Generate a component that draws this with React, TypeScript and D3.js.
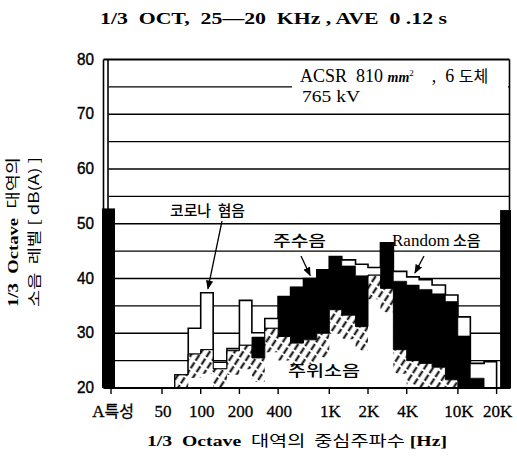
import React from 'react';
import * as d3 from 'd3';

// 1/3 octave band centre frequencies (Hz)
const bandFreqs = [50, 63, 80, 100, 125, 160, 200, 250, 315, 400, 500, 630, 800, 1000, 1250, 1600, 2000, 2500, 3150, 4000, 5000, 6300, 8000, 10000, 12500, 16000];
// overall level (outline), rain noise (black), ambient noise (hatched) in dB(A)
const totalLevel = [20, 22.4, 30.9, 37.4, 24.7, 27.2, 36.0, 30.1, 32.7, 36.7, 38.4, 40.0, 41.6, 44.0, 43.4, 42.6, 42.0, 46.5, 41.3, 40.3, 39.8, 38.8, 37.0, 33.0, 24.5, 24.8];
const rainLevel = [20, 22.4, 26.2, 27.0, 23.5, 26.8, 27.8, 29.3, 30.9, 36.7, 38.4, 40.0, 41.6, 44.0, 42.3, 40.5, 40.6, 46.5, 39.5, 38.8, 38.0, 37.2, 35.8, 29.5, 21.8, 20];
const ambientLevel = [20, 22.4, 26.2, 27.0, 23.5, 26.8, 27.8, 25.5, 30.9, 29.4, 28.2, 28.8, 30.0, 34.3, 33.3, 31.2, 40.6, 38.2, 27.0, 25.0, 24.5, 23.8, 21.5, 20, 20, 20];
// A-weighted overall levels (left "A특성" bar, right 20K bar)
const aWeightedLevels = [52.8, 52.5];

const yTicks = [20, 30, 40, 50, 60, 70, 80];
const gridLevels = [25, 30, 35, 40, 45, 50, 55, 60, 65, 70, 75];
const xTickFreqs = [50, 100, 200, 400, 1000, 2000, 4000, 10000, 20000];
const xTickLabels = ['50', '100', '200', '400', '1K', '2K', '4K', '10K', '20K'];

const W = 517;
const H = 462;
const left = 103.5;
const right = 509.5;
const top = 59.5;
const bottom = 388;
const aTickX = 111;
const hatchDepth = 24; // hatching only runs along the top edge of the ambient area

const serif = '"Liberation Serif", "DejaVu Serif", serif';
const kr = '"Noto Sans CJK KR", sans-serif';
const sans = '"Liberation Sans", Arial, sans-serif';
const pre = { whiteSpace: 'pre' as const };

const x = d3.scaleLog().domain([50, 20000]).range([162, 496.6]);
const y = d3.scaleLinear().domain([20, 80]).range([bottom, top]);

const nextFreq = (i: number) => (i < bandFreqs.length - 1 ? bandFreqs[i + 1] : 20000);
const mid = (f: number) => {
  const i = bandFreqs.indexOf(f);
  return (x(f) + x(nextFreq(i))) / 2;
};

type P = { x: number; hi: number; lo: number };
// step points: each band contributes its left and right edge
const steps = (hi: number[], lo?: number[]): P[] =>
  bandFreqs.flatMap((f, i) => [
    { x: x(f), hi: hi[i], lo: lo ? lo[i] : 20 },
    { x: x(nextFreq(i)), hi: hi[i], lo: lo ? lo[i] : 20 },
  ]);

const area = d3
  .area<P>()
  .x((d) => d.x)
  .y0((d) => y(d.lo))
  .y1((d) => y(d.hi));

const totalPath = area(steps(totalLevel)) || '';
const rainPath = area(steps(rainLevel, ambientLevel)) || '';
const ambientPath = area(steps(ambientLevel)) || '';
const ambientEdge = d3.line<P>().x((d) => d.x).y((d) => y(d.hi))(steps(ambientLevel)) || '';
const hatchInner =
  d3
    .area<P>()
    .x((d) => d.x)
    .y0(bottom - 1)
    .y1((d) => Math.min(y(d.hi) + hatchDepth, bottom - 1))(steps(ambientLevel)) || '';

const Arrow = ({ from, to }: { from: [number, number]; to: [number, number] }) => (
  <line x1={from[0]} y1={from[1]} x2={to[0]} y2={to[1]} stroke="#000" strokeWidth={1.3} markerEnd="url(#arrow)" />
);

export default function App() {
  const coronaTip: [number, number] = [mid(100) + 1, y(totalLevel[3]) - 4];
  const rainTip: [number, number] = [mid(630), y(rainLevel[11]) - 3];
  const randomTip: [number, number] = [mid(4000) + 2, y(totalLevel[19]) - 4];

  return (
    <svg width={W} height={H} style={{ position: 'absolute', left: 0, top: 0, background: '#fff' }}>
      <defs>
        <pattern id="hatch" patternUnits="userSpaceOnUse" width={7} height={9} patternTransform="rotate(33)">
          <rect width={7} height={9} fill="#fff" />
          <line x1={3.5} y1={0} x2={3.5} y2={9} stroke="#000" strokeWidth={2} strokeDasharray="7 2" />
        </pattern>
        <marker id="arrow" viewBox="0 0 10 10" refX={9} refY={5} markerWidth={7} markerHeight={7} orient="auto">
          <path d="M0,1 L10,5 L0,9 z" fill="#000" />
        </marker>
      </defs>

      {/* title */}
      <text x={100} y={24} style={pre} fontFamily={serif} fontWeight="bold" fontSize={17} textLength={347} lengthAdjust="spacingAndGlyphs">
        1/3  OCT,  25—20  KHz , AVE  0 .12 s
      </text>

      {/* grid */}
      {gridLevels.map((g) => (
        <line key={g} x1={left + 5} x2={right} y1={y(g)} y2={y(g)} stroke="#000" strokeWidth={1.4} />
      ))}

      {/* conductor note */}
      <rect x={292} y={66} width={216} height={40} fill="#fff" />
      <text x={300} y={82} style={pre} fontFamily={serif} fontSize={18}>
        {'ACSR  810 '}
        <tspan fontStyle="italic" fontWeight="bold" fontSize={14}>mm</tspan>
        <tspan fontSize={9} dy={-6}>2</tspan>
        <tspan dy={6}>{'    ,  6 '}</tspan>
        <tspan fontFamily={kr} fontSize={16}>도체</tspan>
      </text>
      <text x={302} y={102} fontFamily={serif} fontSize={17} textLength={58} lengthAdjust="spacingAndGlyphs">
        765 kV
      </text>

      {/* bars */}
      <path d={totalPath} fill="#fff" stroke="#000" strokeWidth={1.6} strokeLinejoin="miter" />
      <path d={rainPath} fill="#000" stroke="#000" strokeWidth={0.6} />
      <path d={ambientPath} fill="url(#hatch)" stroke="none" />
      <path d={hatchInner} fill="#fff" stroke="none" />
      <path d={ambientEdge} fill="none" stroke="#000" strokeWidth={1} />

      {/* A-weighted bars */}
      <rect x={left - 1.5} y={y(aWeightedLevels[0])} width={13} height={y(20) - y(aWeightedLevels[0])} fill="#000" />
      <rect x={x(20000) + 3.5} y={y(aWeightedLevels[1])} width={right + 1.5 - x(20000) - 3.5} height={y(20) - y(aWeightedLevels[1])} fill="#000" />

      {/* frame */}
      <line x1={left} x2={left} y1={top} y2={bottom} stroke="#000" strokeWidth={1.6} />
      <line x1={left + 4.5} x2={left + 4.5} y1={top} y2={bottom} stroke="#000" strokeWidth={1.6} />
      <line x1={left} x2={right} y1={top} y2={top} stroke="#000" strokeWidth={2} />
      <line x1={right} x2={right} y1={top} y2={bottom} stroke="#000" strokeWidth={1.6} />
      <line x1={left} x2={right + 1} y1={bottom} y2={bottom} stroke="#000" strokeWidth={2.2} />

      {/* y ticks */}
      {yTicks.map((t) => (
        <text key={t} x={94} y={y(t) + 5} textAnchor="end" fontFamily={sans} fontSize={16} stroke="#000" strokeWidth={0.4} textLength={17} lengthAdjust="spacingAndGlyphs">
          {t}
        </text>
      ))}

      {/* x ticks */}
      <line x1={aTickX} x2={aTickX} y1={bottom} y2={bottom + 6} stroke="#000" strokeWidth={1.4} />
      <text x={aTickX + 2} y={417} textAnchor="middle" fontFamily={serif} fontSize={17} stroke="#000" strokeWidth={0.3}>
        A<tspan fontFamily={kr} fontSize={16}>특성</tspan>
      </text>
      {xTickFreqs.map((f, i) => (
        <g key={f}>
          <line x1={x(f)} x2={x(f)} y1={bottom} y2={bottom + 6} stroke="#000" strokeWidth={1.4} />
          <text x={x(f) + 1} y={417} textAnchor="middle" fontFamily={serif} fontSize={17} stroke="#000" strokeWidth={0.3}>
            {xTickLabels[i]}
          </text>
        </g>
      ))}

      {/* axis titles */}
      <text x={147} y={446} style={pre} fontFamily={serif} fontWeight="bold" fontSize={15} textLength={300} lengthAdjust="spacingAndGlyphs">
        1/3  Octave  <tspan fontFamily={kr} fontWeight="normal">대역의  중심주파수</tspan> [Hz]
      </text>
      <text transform="translate(18,232) rotate(-90)" style={pre} textAnchor="middle" fontFamily={serif} fontWeight="bold" fontSize={15} textLength={150} lengthAdjust="spacingAndGlyphs">
        1/3  Octave  <tspan fontFamily={kr} fontWeight="normal">대역의</tspan>
      </text>
      <text transform="translate(39,232) rotate(-90)" style={pre} textAnchor="middle" fontFamily={kr} fontSize={14} textLength={150} lengthAdjust="spacingAndGlyphs">
        소음  레벨 [ dB(A) ]
      </text>

      {/* annotations */}
      <text x={170} y={216} style={pre} fontFamily={kr} fontSize={15} fontWeight={500} textLength={75} lengthAdjust="spacingAndGlyphs">
        코로나  혐음
      </text>
      <Arrow from={[222, 221]} to={coronaTip} />
      <text x={273} y={246} fontFamily={kr} fontSize={15} fontWeight={500} textLength={53} lengthAdjust="spacingAndGlyphs">
        주수음
      </text>
      <Arrow from={[301, 256]} to={rainTip} />
      <text x={392} y={246} fontFamily={serif} fontSize={17}>
        Random<tspan fontFamily={kr} fontSize={15} fontWeight={500}> 소음</tspan>
      </text>
      <Arrow from={[424, 256]} to={randomTip} />
      <text x={288} y={376} fontFamily={kr} fontSize={15} fontWeight={500} textLength={72} lengthAdjust="spacingAndGlyphs">
        주위소음
      </text>
    </svg>
  );
}
